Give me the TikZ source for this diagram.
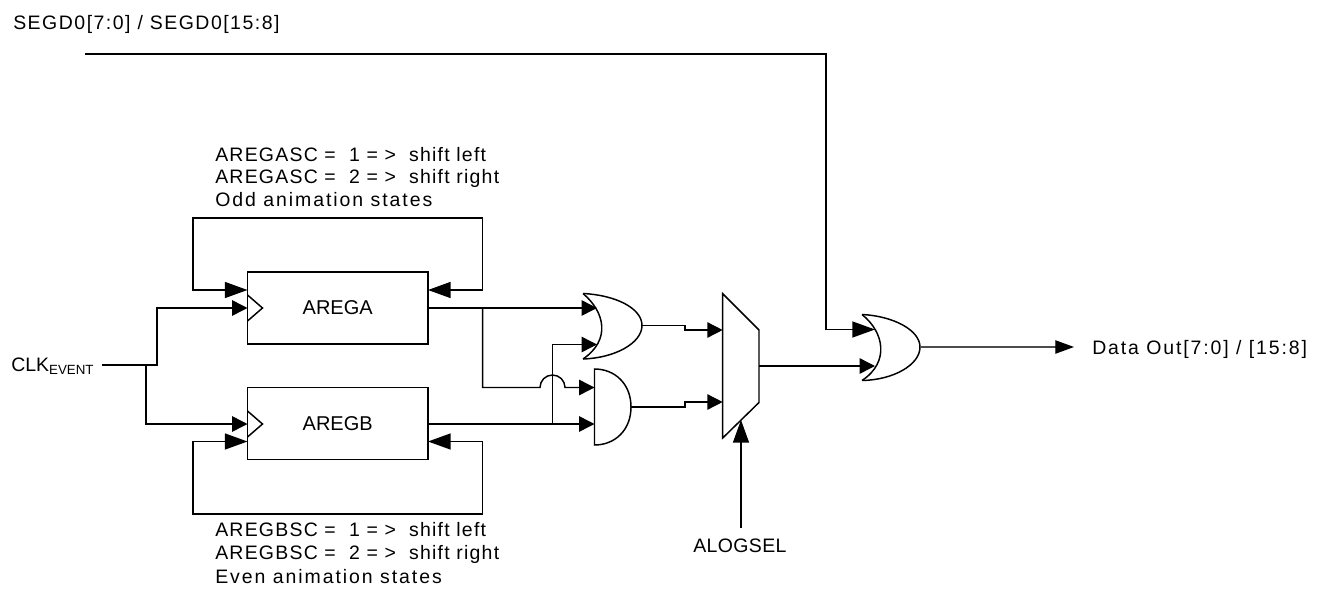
\documentclass[tikz,border=0pt]{standalone}
\usepackage{fontspec}
\setmainfont{Liberation Sans}
\newfontfamily\labfont[LetterSpace=6.3]{Liberation Sans}
\newfontfamily\labfontb[LetterSpace=7.7]{Liberation Sans}
\newfontfamily\labfontc[LetterSpace=10]{Liberation Sans}
\newfontfamily\labfontd[LetterSpace=9.7]{Liberation Sans}
\newfontfamily\labfonte[LetterSpace=2]{Liberation Sans}
\usetikzlibrary{arrows.meta}
\tikzset{
 wire/.style={line width=1.1pt,line join=miter},
 shortin/.style={wire,-{Triangle[length=11.5pt,width=11.5pt]}},
 longin/.style={wire,-{Triangle[length=17pt,width=12pt]}},
 outw/.style={line width=0.9pt,color=black!70,-{Triangle[length=14pt,width=10pt,color=black]}},
 regbox/.style={draw,line width=1.1pt,minimum width=135.5pt,minimum height=54pt,inner sep=0pt,font=\fontsize{15pt}{18pt}\selectfont},
 gate/.style={line width=1.1pt,line join=miter},
 lab/.style={anchor=base west,inner sep=0pt,font=\labfont\fontsize{14.6pt}{18pt}\selectfont},
 labb/.style={lab,font=\labfontb\fontsize{14.6pt}{18pt}\selectfont},
 labc/.style={lab,font=\labfontc\fontsize{14.6pt}{18pt}\selectfont},
 labd/.style={lab,font=\labfontd\fontsize{14.6pt}{18pt}\selectfont},
 labe/.style={lab,font=\labfonte\fontsize{14.6pt}{18pt}\selectfont},
}
\begin{document}
\begin{tikzpicture}[x=0.75pt,y=-0.75pt]
\useasboundingbox (0,0) rectangle (1329,589);
% registers
\node[regbox] (arega) at (337.7,308) {AREGA};
\node[regbox] (aregb) at (337.7,423.7) {AREGB};
\draw[gate] (247.5,295) -- (262.5,308) -- (247.5,321);
\draw[gate] (247.5,411) -- (262.5,424) -- (247.5,437);
% labels
\node[labb] (top) at (13,29) {SEGD0[7:0] / SEGD0[15:8]};
\node[lab] (a1) at (215,161) {AREGASC =~ 1 = > ~shift left};
\node[lab] (a2) at (215,183.5) {AREGASC =~ 2 = > ~shift right};
\node[labc] (a3) at (215,206.5) {Odd animation states};
\node[lab] (b1) at (215,536) {AREGBSC =~ 1 = > ~shift left};
\node[lab] (b2) at (215,559.5) {AREGBSC =~ 2 = > ~shift right};
\node[labc] (b3) at (215,583) {Even animation states};
\node[lab,font=\fontsize{14.6pt}{18pt}\selectfont] (clk) at (11,371) {CLK\raisebox{-0.2em}{\fontsize{10pt}{12pt}\selectfont EVENT}};
\node[labe] (alog) at (693,552) {ALOGSEL};
\node[labd] (dout) at (1092,354) {Data Out[7:0] / [15:8]};
% gate pins
\coordinate (clkout) at (102,365);
\coordinate (segs) at (85,54);
\coordinate (or1a) at (597,308);
\coordinate (or1b) at (597,344.5);
\coordinate (or1o) at (642,325.5);
\coordinate (and1a) at (594.5,387.5);
\coordinate (and1b) at (594.5,424);
\coordinate (and1o) at (631,407);
\coordinate (mux1) at (722.7,330);
\coordinate (mux2) at (722.7,402);
\coordinate (muxs) at (741,420);
\coordinate (muxo) at (759,366);
\coordinate (or2a) at (875,329.5);
\coordinate (or2b) at (875,366);
\coordinate (or2o) at (920,347);
\coordinate (ain) at (247.5,290);
\coordinate (aclk) at (247.5,308);
\coordinate (bclk) at (247.5,424);
\coordinate (bin) at (247.5,441.5);
\coordinate (afb) at (428,290);
\coordinate (bfb) at (428,441.5);
\coordinate (aout) at (428,308);
\coordinate (bout) at (428,424);
\coordinate (outend) at (1074,347);
\coordinate (alogtop) at (741,528);
% gates
\draw[gate] (583,293.5) .. controls (605,312) and (611,340) .. (583,359);
\draw[gate] (583,293.5) .. controls (615,295) and (642,308) .. (or1o) .. controls (642,343) and (615,358) .. (583,359);
\draw[gate] (594.5,369) -- (594.5,445) .. controls (615,445) and (631,430) .. (and1o) .. controls (631,384) and (615,369) .. (594.5,369) -- cycle;
\draw[gate] (722.7,293.7) -- (759,330) -- (759,402.5) -- (722.7,438) -- cycle;
\draw[gate] (862,314.5) .. controls (884,332) and (890,362) .. (862,380.5);
\draw[gate] (862,314.5) .. controls (893,316) and (920,330) .. (or2o) .. controls (920,365) and (893,380) .. (862,380.5);
% connectors
\draw[shortin] (clkout) -- (157,365) |- (aclk);
\draw[shortin] (146,365) |- (bclk);
\draw[longin] (482.7,290) |- (193,218) |- (ain);
\draw[longin] (482.7,290) -- (afb);
\draw[longin] (482.7,441.5) |- (193,514) |- (bin);
\draw[longin] (482.7,441.5) -- (bfb);
\draw[shortin] (aout) -- (or1a);
\draw[shortin] (482.7,308) |- (540,387.5) arc[start angle=180,end angle=360,radius=12.5] -- (and1a);
\draw[shortin] (bout) -- (and1b);
\draw[shortin] (552.5,424) |- (or1b);
\draw[shortin] (or1o) -- (685,325.5) -- (685,330) -- (mux1);
\draw[shortin] (and1o) -- (685,407) -- (685,402) -- (mux2);
\draw[longin] (alogtop) -- (muxs);
\draw[longin] (segs) -| (826,329.5) -- (or2a);
\draw[shortin] (muxo) -- (or2b);
\draw[outw] (or2o) -- (outend);
\end{tikzpicture}
\end{document}
